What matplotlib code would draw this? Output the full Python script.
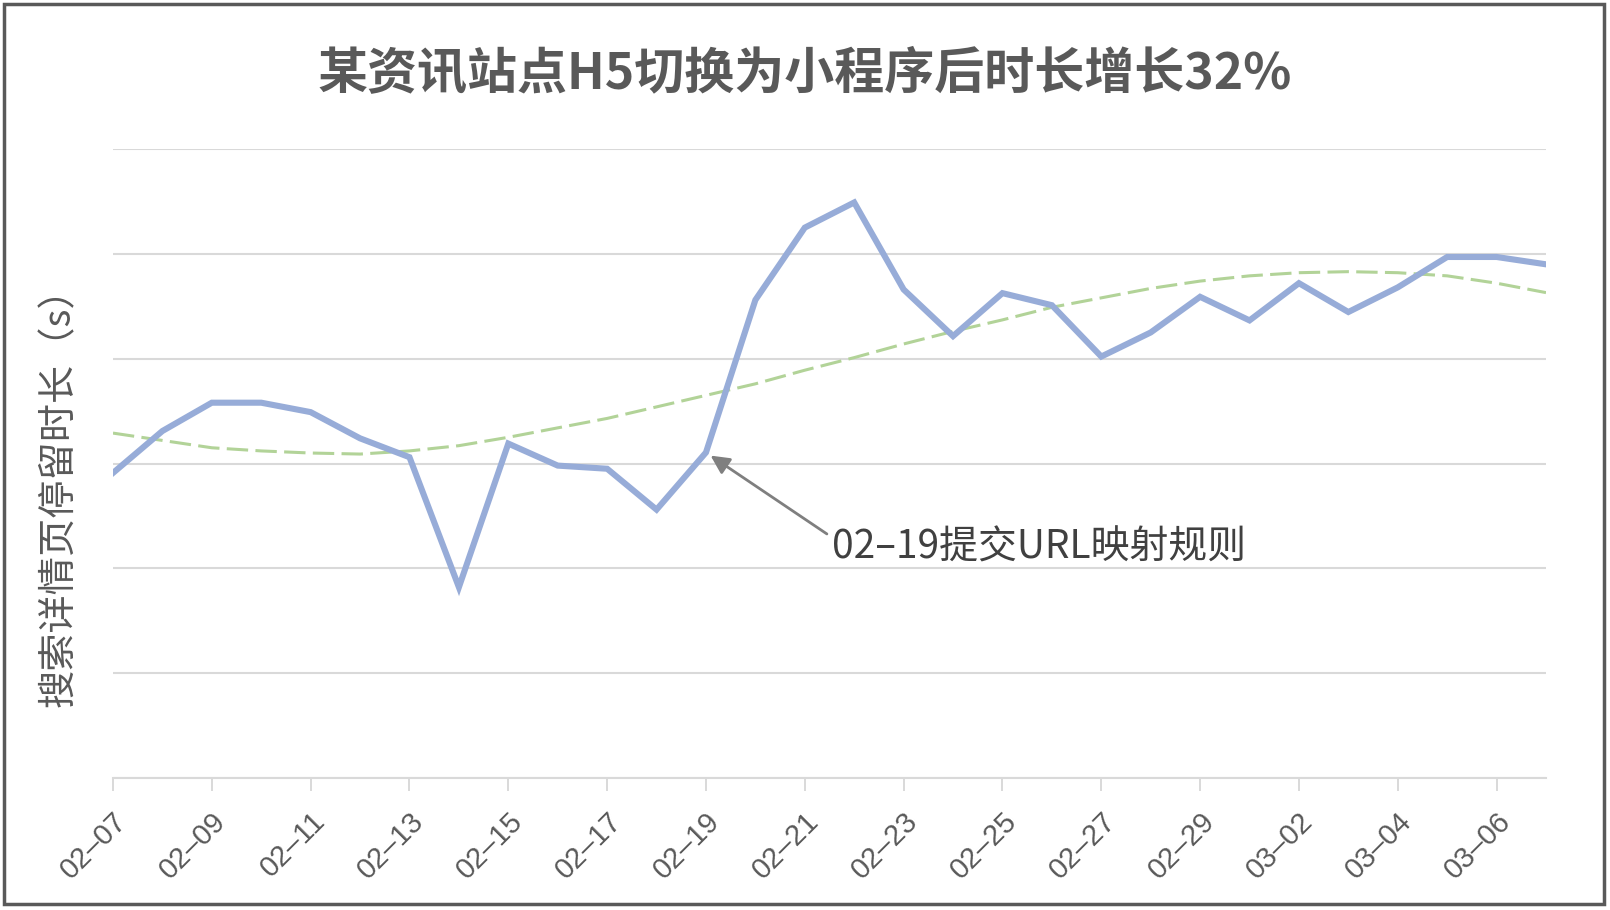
import numpy as np
import matplotlib
matplotlib.use("Agg")
import matplotlib.pyplot as plt
from matplotlib.patches import Rectangle

plt.rcParams['font.family'] = ['Noto Sans CJK SC', 'DejaVu Sans']

# data (no y scale shown, grid every 10 units)
dates = ["02–07", "02–08", "02–09", "02–10", "02–11", "02–12", "02–13", "02–14",
         "02–15", "02–16", "02–17", "02–18", "02–19", "02–20", "02–21", "02–22",
         "02–23", "02–24", "02–25", "02–26", "02–27", "02–28", "02–29", "03–01",
         "03–02", "03–03", "03–04", "03–05", "03–06", "03–07"]

duration = [29.1, 33.1, 35.8, 35.8, 34.9, 32.4, 30.6, 18.2,
            31.9, 29.8, 29.5, 25.6, 31.05, 45.6, 52.5, 54.9,
            46.6, 42.15, 46.25, 45.1, 40.2, 42.5, 45.9, 43.65,
            47.2, 44.45, 46.8, 49.7, 49.7, 49.0]

trend = [32.9, 32.2, 31.5, 31.2, 31.0, 30.9, 31.2, 31.7,
         32.5, 33.4, 34.3, 35.4, 36.5, 37.6, 38.9, 40.1,
         41.4, 42.6, 43.7, 44.9, 45.8, 46.7, 47.4, 47.9,
         48.2, 48.3, 48.2, 47.9, 47.2, 46.3]

title = "某资讯站点H5切换为小程序后时长增长32%"
ylabel = "搜索详情页停留时长（s）"
note = "02–19提交URL映射规则"
note_idx = 12

W, H = 1610, 910
fig = plt.figure(figsize=(W / 100, H / 100), dpi=100)
ax = fig.add_axes([113 / W, 1 - 778 / H, (1546 - 113) / W, (778 - 149) / H])

x = np.arange(len(dates))

ax.plot(x, trend, color="#b2d398", lw=2.2, ls=(0, (7, 2.4)), zorder=2)
ax.plot(x, duration, color="#97acd8", lw=4.4, solid_joinstyle="miter", zorder=3)

ax.set_xlim(0, len(dates) - 1)
ax.set_ylim(0, 60)
ax.set_yticks(np.arange(0, 61, 10))
ax.yaxis.grid(True, color="#d9d9d9", lw=1.5)
ax.set_axisbelow(True)
ax.tick_params(axis="y", length=0, labelleft=False)

ax.set_xticks(x[::2])
ax.set_xticklabels(dates[::2], rotation=45, ha="right", va="top",
                   rotation_mode="anchor", fontsize=21, color="#595959",
                   family=["Liberation Sans", "DejaVu Sans"])
ax.tick_params(axis="x", length=9, width=1.4, color="#d9d9d9", pad=12)

for s in ["top", "right", "left"]:
    ax.spines[s].set_visible(False)
ax.spines["bottom"].set_color("#d9d9d9")
ax.spines["bottom"].set_linewidth(1.5)

ax.set_ylabel(ylabel, fontsize=27.5, color="#595959")
ax.yaxis.set_label_coords(-34 / (1546 - 113), 0.462)

fig.text(0.5, 1 - 74 / H, title, ha="center", va="center", fontsize=36,
         fontweight="bold", color="#595959")

ax.annotate(note, xy=(note_idx, duration[note_idx]), xytext=(14.55, 22.0),
            ha="left", va="center", fontsize=28, color="#404040",
            arrowprops=dict(arrowstyle="-|>", color="#7f7f7f", lw=2,
                            mutation_scale=28, shrinkA=2, shrinkB=4,
                            relpos=(0, 0.75)))

fig.patches.append(Rectangle((4 / W, 1 - 904 / H), 1600 / W, 900 / H,
                             transform=fig.transFigure, fill=False,
                             edgecolor="#595959", lw=2.5))

plt.savefig("out.png", dpi=100)
